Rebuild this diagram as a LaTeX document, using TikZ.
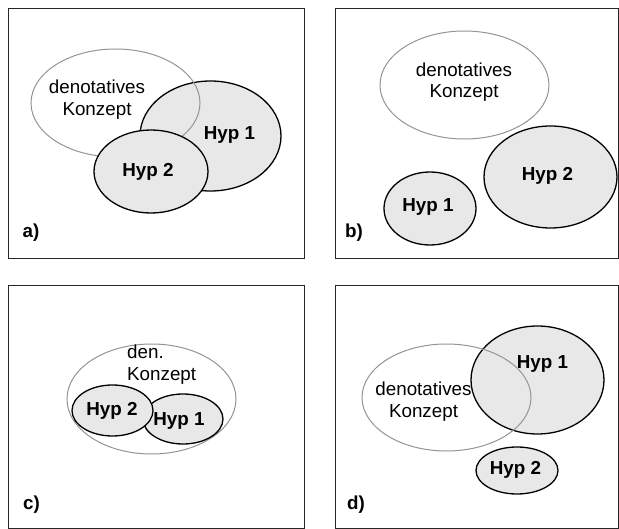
\documentclass[tikz,border=0pt]{standalone}
\usepackage{fontspec}
\setmainfont{Liberation Sans}
\begin{document}
\begin{tikzpicture}[x=1pt,y=-1pt,
  panel/.style={draw=black!85,line width=0.9pt},
  concept/.style={draw=black!42,line width=1pt},
  hyp/.style={draw=black,line width=1.3pt,fill=black!9},
  txt/.style={inner sep=0pt,font=\fontsize{18.8}{21.5}\selectfont,align=center},
  btxt/.style={inner sep=0pt,font=\fontsize{18.8}{21.5}\selectfont\bfseries},
  tag/.style={inner sep=0pt,font=\fontsize{18.8}{21.5}\selectfont\bfseries}]
\useasboundingbox (0,0) rectangle (619,529);

% panel frames
\draw[panel] (8,8) rectangle (304,258);
\draw[panel] (335,8) rectangle (618,258);
\draw[panel] (8,285) rectangle (304,528);
\draw[panel] (335,285) rectangle (618,528);

% a) overlapping hypotheses
\fill[hyp] (210.5,136) ellipse [x radius=70.5, y radius=55];
\draw[concept] (115.5,103) ellipse [x radius=84.5, y radius=54];
\fill[hyp] (151,171.5) ellipse [x radius=57, y radius=41.5];
\node[txt] (a-den) at (97,99.5) {denotatives\\Konzept};
\node[btxt] (a-h1) at (229.5,135) {Hyp 1};
\node[btxt] (a-h2) at (148,172) {Hyp 2};
\node[tag] (a-tag) at (31,233) {a)};

% b) disjoint
\draw[concept] (464.5,85) ellipse [x radius=84.5, y radius=54];
\fill[hyp] (550.5,177) ellipse [x radius=66.5, y radius=51];
\fill[hyp] (430,208.5) ellipse [x radius=46, y radius=36.5];
\node[txt] (b-den) at (464,82) {denotatives\\Konzept};
\node[btxt] (b-h2) at (547.5,176) {Hyp 2};
\node[btxt] (b-h1) at (428,207) {Hyp 1};
\node[tag] (b-tag) at (354,233) {b)};

% c) hypotheses inside the concept
\draw[concept] (151.5,399) ellipse [x radius=84.5, y radius=55];
\fill[hyp] (183,419) ellipse [x radius=40, y radius=25];
\fill[hyp] (112.5,410.5) ellipse [x radius=40.5, y radius=25.5];
\node[txt,align=left,anchor=north west] (c-den) at (127,345) {den.\\Konzept};
\node[btxt] (c-h2) at (112,411) {Hyp 2};
\node[btxt] (c-h1) at (179,421) {Hyp 1};
\node[tag] (c-tag) at (31.5,505) {c)};

% d) partial overlap
\fill[hyp] (537.5,380) ellipse [x radius=66.5, y radius=54];
\draw[concept] (446.5,397.5) ellipse [x radius=84.5, y radius=53.5];
\fill[hyp] (517,470.5) ellipse [x radius=41, y radius=23.5];
\node[txt] (d-den) at (423.5,401.5) {denotatives\\Konzept};
\node[btxt] (d-h1) at (542.5,364) {Hyp 1};
\node[btxt] (d-h2) at (515.5,470) {Hyp 2};
\node[tag] (d-tag) at (356,505) {d)};
\end{tikzpicture}
\end{document}
